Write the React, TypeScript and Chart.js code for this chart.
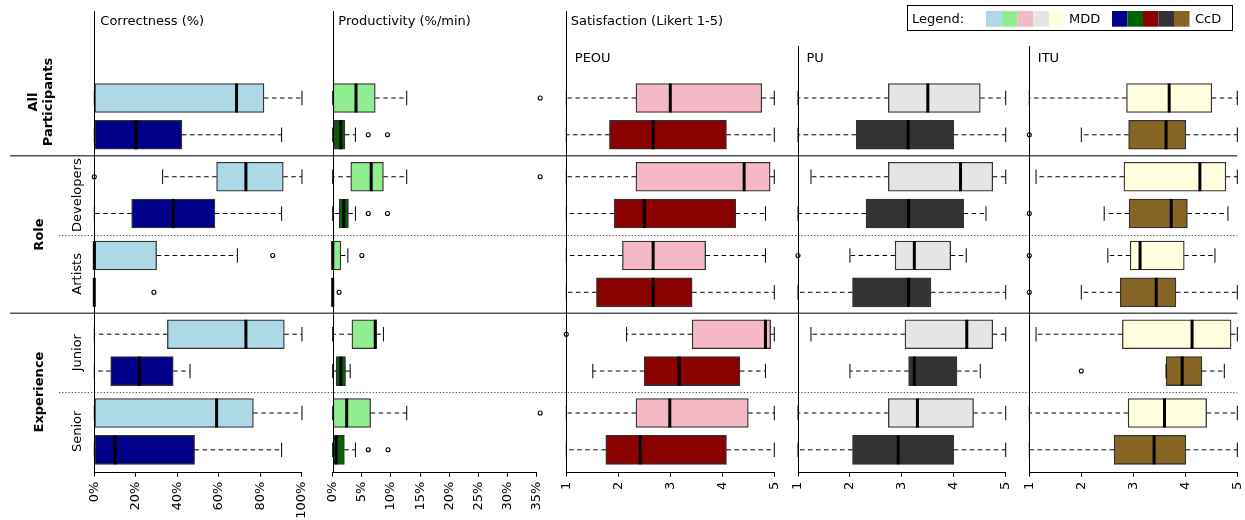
import { useEffect, useRef } from 'react';
import { Chart, registerables } from 'chart.js';

Chart.register(...registerables);

const FONT = 'DejaVu Sans';

// ---------- text ----------
const panelTitles = ['Correctness (%)', 'Productivity (%/min)'];
const satisfactionTitle = 'Satisfaction (Likert 1-5)';
const likertTitles = ['PEOU', 'PU', 'ITU'];
const groupLabels = [['All', 'Participants'], ['Role'], ['Experience']];
const subgroupLabels = ['', 'Developers', 'Artists', 'Junior', 'Senior'];
const methodNames = ['MDD', 'CcD'];

// ---------- tick labels ----------
const correctnessTicks = [0, 20, 40, 60, 80, 100];
const productivityTicks = [0, 5, 10, 15, 20, 25, 30, 35];
const likertTicks = [1, 2, 3, 4, 5];

// ---------- data: [lower whisker, Q1, median, Q3, upper whisker]
// rows: All Participants, Developers, Artists, Junior, Senior
const correctnessMDD = [
  [0, 0, 68.5, 81.7, 100],
  [32.9, 58.9, 73, 91, 100],
  [0, 0, 0, 30, 68.9],
  [0, 35.2, 73, 91.5, 100],
  [0, 0, 58.9, 76.6, 100],
];
const correctnessMDDOutliers = [[], [0], [85.9], [], []];
const correctnessCcD = [
  [0, 0, 20.1, 42.2, 90.2],
  [0, 18, 38, 58.1, 90.2],
  [0, 0, 0, 0, 0],
  [0, 7.9, 21.7, 38, 46.1],
  [0, 0, 10, 48.3, 90.2],
];
const correctnessCcDOutliers = [[], [], [28.7], [], []];

const productivityMDD = [
  [0, 0, 4.0, 7.3, 12.7],
  [0, 3.1, 6.6, 8.7, 12.7],
  [0, 0, 0, 1.4, 2.6],
  [0, 3.3, 7.3, 7.5, 8.7],
  [0, 0, 2.4, 6.5, 12.7],
];
const productivityMDDOutliers = [[35.6], [35.6], [5.0], [], [35.6]];
const productivityCcD = [
  [0, 0.2, 1.4, 2.1, 3.9],
  [0, 1.1, 1.9, 2.7, 3.9],
  [0, 0, 0, 0, 0],
  [0, 0.6, 1.4, 2.2, 3.0],
  [0, 0, 0.6, 2.0, 3.9],
];
const productivityCcDOutliers = [[6.1, 9.4], [6.1, 9.4], [1.1], [], [6.1, 9.5]];

const peouMDD = [
  [1, 2.34, 3.0, 4.76, 5],
  [1, 2.34, 4.42, 4.92, 5],
  [1, 2.08, 2.67, 3.68, 4.83],
  [2.16, 3.42, 4.83, 4.93, 5],
  [1, 2.34, 2.99, 4.5, 5],
];
const peouMDDOutliers = [[], [], [], [1], []];
const peouCcD = [
  [1, 1.83, 2.67, 4.08, 5],
  [1, 1.92, 2.5, 4.26, 4.83],
  [1, 1.58, 2.67, 3.42, 5],
  [1.51, 2.5, 3.17, 4.34, 4.83],
  [1, 1.76, 2.42, 4.08, 5],
];
const peouCcDOutliers = [[], [], [], [], []];

const puMDD = [
  [1, 2.74, 3.5, 4.51, 5],
  [1.25, 2.74, 4.13, 4.75, 5],
  [2, 2.87, 3.24, 3.94, 4.24],
  [1.25, 3.06, 4.25, 4.75, 5],
  [1, 2.74, 3.3, 4.38, 5],
];
const puMDDOutliers = [[], [], [1], [], []];
const puCcD = [
  [1, 2.12, 3.12, 4.0, 5],
  [1, 2.31, 3.13, 4.19, 4.62],
  [1, 2.05, 3.13, 3.56, 5],
  [2, 3.13, 3.24, 4.06, 4.51],
  [1, 2.05, 2.93, 4.0, 5],
];
const puCcDOutliers = [[], [], [], [], []];

const ituMDD = [
  [1, 2.87, 3.69, 4.51, 5],
  [1.13, 2.82, 4.28, 4.78, 5],
  [2.51, 2.94, 3.13, 3.98, 4.57],
  [1.13, 2.79, 4.13, 4.88, 5],
  [1, 2.9, 3.6, 4.41, 5],
];
const ituMDDOutliers = [[], [], [1], [], []];
const ituCcD = [
  [2, 2.91, 3.63, 4.01, 5],
  [2.44, 2.92, 3.73, 4.04, 4.82],
  [2, 2.75, 3.44, 3.82, 5],
  [3.63, 3.63, 3.94, 4.32, 4.75],
  [1, 2.63, 3.4, 4.01, 5],
];
const ituCcDOutliers = [[1], [1], [1], [2], []];

// ---------- assembly ----------
const statsByMethod = [
  [correctnessMDD, productivityMDD, peouMDD, puMDD, ituMDD],
  [correctnessCcD, productivityCcD, peouCcD, puCcD, ituCcD],
];
const outliersByMethod = [
  [correctnessMDDOutliers, productivityMDDOutliers, peouMDDOutliers, puMDDOutliers, ituMDDOutliers],
  [correctnessCcDOutliers, productivityCcDOutliers, peouCcDOutliers, puCcDOutliers, ituCcDOutliers],
];
const panelTicks = [correctnessTicks, productivityTicks, likertTicks, likertTicks, likertTicks];

// ---------- styles / layout ----------
const mddColors = ['#ADD8E6', '#90EE90', '#F4B9C4', '#E5E5E5', '#FFFFE0'];
const ccdColors = ['#00008B', '#006400', '#8B0000', '#333333', '#856424'];
const methodColors = [mddColors, ccdColors];
const panelRanges = [[0, 114.8], [0, 40.08], [1, 5.456], [1, 5.454], [1, 5.148]];
const panelWeights = [238.4, 233.6, 231.7, 231.3, 215.7];
const GROUP_STEP = 2.14;
const SEP_OFFSET = 0.57;
const Y_MIN = -1.391;
const Y_MAX = 11.155;
const BOX_H = 29;

const rowPos = (k: number, m: number) => 1 + k * GROUP_STEP + m;

function vText(ctx: CanvasRenderingContext2D, text: string, x: number, y: number) {
  ctx.save();
  ctx.translate(x, y);
  ctx.rotate(-Math.PI / 2);
  ctx.textAlign = 'center';
  ctx.textBaseline = 'alphabetic';
  ctx.fillText(text, 0, 0);
  ctx.restore();
}

const decorPlugin = {
  id: 'boxDecor',
  beforeDatasetsDraw(chart: any) {
    const ctx: CanvasRenderingContext2D = chart.ctx;
    const ys = chart.scales.y;
    const xEnd = chart.scales.x4.getPixelForValue(5);
    ctx.save();
    // solid separators between groups
    ctx.strokeStyle = '#555';
    ctx.lineWidth = 1.3;
    [0, 2].forEach((k) => {
      const y = ys.getPixelForValue(rowPos(k, 1) + SEP_OFFSET);
      ctx.beginPath();
      ctx.moveTo(10, y);
      ctx.lineTo(xEnd, y);
      ctx.stroke();
    });
    // dotted separators within groups
    ctx.strokeStyle = '#444';
    ctx.lineWidth = 1;
    ctx.setLineDash([1.2, 2]);
    [1, 3].forEach((k) => {
      const y = Math.round(ys.getPixelForValue(rowPos(k, 1) + SEP_OFFSET)) + 0.5;
      ctx.beginPath();
      ctx.moveTo(59, y);
      ctx.lineTo(xEnd, y);
      ctx.stroke();
    });
    ctx.restore();
  },
  afterDatasetsDraw(chart: any) {
    const ctx: CanvasRenderingContext2D = chart.ctx;
    const ys = chart.scales.y;
    const bottom = chart.chartArea.bottom;
    ctx.save();
    for (let p = 0; p < 5; p++) {
      const xs = chart.scales['x' + p];
      for (let m = 0; m < 2; m++) {
        statsByMethod[m][p].forEach((s: number[], k: number) => {
          const y = ys.getPixelForValue(rowPos(k, m));
          const [lo, q1, med, q3, hi] = s.map((v) => xs.getPixelForValue(v));
          ctx.strokeStyle = '#000';
          ctx.lineWidth = 1;
          // whiskers
          ctx.setLineDash([4.5, 3.5]);
          ctx.beginPath();
          if (q3 < hi) { ctx.moveTo(q3, y); ctx.lineTo(hi, y); }
          if (lo < q1) { ctx.moveTo(q1, y); ctx.lineTo(lo, y); }
          ctx.stroke();
          ctx.setLineDash([]);
          // caps
          ctx.beginPath();
          ctx.moveTo(hi, y - BOX_H / 4); ctx.lineTo(hi, y + BOX_H / 4);
          ctx.moveTo(lo, y - BOX_H / 4); ctx.lineTo(lo, y + BOX_H / 4);
          ctx.stroke();
          // median
          ctx.lineWidth = 3;
          ctx.beginPath();
          ctx.moveTo(med, y - BOX_H / 2); ctx.lineTo(med, y + BOX_H / 2);
          ctx.stroke();
          // outliers
          ctx.lineWidth = 1.1;
          outliersByMethod[m][p][k].forEach((v: number) => {
            ctx.beginPath();
            ctx.arc(xs.getPixelForValue(v), y, 2, 0, Math.PI * 2);
            ctx.stroke();
          });
        });
      }
      // panel vertical line
      const lx = Math.round(xs.left) + 0.5;
      ctx.strokeStyle = '#000';
      ctx.lineWidth = 1;
      ctx.beginPath();
      ctx.moveTo(lx, p < 3 ? 11 : 46);
      ctx.lineTo(lx, bottom + 0.5);
      ctx.stroke();
      // axis line from first to last tick
      const t = panelTicks[p];
      const ay = Math.round(bottom) + 0.5;
      ctx.beginPath();
      ctx.moveTo(xs.getPixelForValue(t[0]), ay);
      ctx.lineTo(xs.getPixelForValue(t[t.length - 1]), ay);
      ctx.stroke();
    }
    ctx.restore();
  },
  afterDraw(chart: any) {
    const ctx: CanvasRenderingContext2D = chart.ctx;
    const ys = chart.scales.y;
    ctx.save();
    ctx.fillStyle = '#000';
    ctx.font = `13px "${FONT}"`;
    ctx.textBaseline = 'alphabetic';
    ctx.textAlign = 'left';
    // panel titles
    ctx.fillText(panelTitles[0], chart.scales.x0.left + 6, 24.5);
    ctx.fillText(panelTitles[1], chart.scales.x1.left + 5.6, 24.5);
    ctx.fillText(satisfactionTitle, chart.scales.x2.left + 4.4, 24.5);
    likertTitles.forEach((t, i) => {
      ctx.fillText(t, chart.scales['x' + (i + 2)].left + 8.5, 62);
    });
    // legend
    ctx.strokeStyle = '#000';
    ctx.lineWidth = 1;
    ctx.strokeRect(907.5, 5.5, 325, 25);
    ctx.fillText('Legend:', 912, 23);
    mddColors.forEach((c, i) => {
      ctx.fillStyle = c;
      ctx.fillRect(986 + i * 15.8, 11, 15.8, 15.7);
    });
    ccdColors.forEach((c, i) => {
      ctx.fillStyle = c;
      ctx.fillRect(1112 + i * 15.5, 11, 15.5, 15.7);
    });
    ctx.fillStyle = '#000';
    ctx.fillText(methodNames[0], 1069, 23);
    ctx.fillText(methodNames[1], 1195, 23);
    // subgroup labels
    subgroupLabels.forEach((lab, k) => {
      if (!lab) return;
      const y = (ys.getPixelForValue(rowPos(k, 0)) + ys.getPixelForValue(rowPos(k, 1))) / 2;
      vText(ctx, lab, 81, y);
    });
    // group labels
    ctx.font = `bold 13px "${FONT}"`;
    vText(ctx, groupLabels[0][0], 37, 102);
    vText(ctx, groupLabels[0][1], 51.5, 102);
    const centerOf = (k1: number, k2: number) =>
      (ys.getPixelForValue(rowPos(k1, 0)) + ys.getPixelForValue(rowPos(k2, 1))) / 2;
    vText(ctx, groupLabels[1][0], 42.5, centerOf(1, 2));
    vText(ctx, groupLabels[2][0], 42.5, centerOf(3, 4));
    ctx.restore();
  },
};

function buildConfig(): any {
  const datasets: any[] = [];
  for (let p = 0; p < 5; p++) {
    for (let m = 0; m < 2; m++) {
      datasets.push({
        label: methodNames[m],
        xAxisID: 'x' + p,
        yAxisID: 'y',
        data: statsByMethod[m][p].map((s, k) => ({ y: rowPos(k, m), x: [s[1], s[3]] })),
        backgroundColor: methodColors[m][p],
        borderColor: '#333',
        borderWidth: 1.3,
        borderSkipped: false,
        barThickness: BOX_H,
        grouped: false,
      });
    }
  }
  const scales: any = {
    y: {
      type: 'linear',
      reverse: true,
      min: Y_MIN,
      max: Y_MAX,
      offset: false,
      bounds: 'data',
      grace: 0,
      display: false,
    },
  };
  for (let p = 0; p < 5; p++) {
    const ticks = panelTicks[p];
    scales['x' + p] = {
      type: 'linear',
      position: 'bottom',
      stack: 'panels',
      stackWeight: panelWeights[p],
      min: panelRanges[p][0],
      max: panelRanges[p][1],
      offset: false,
      afterBuildTicks: (s: any) => {
        s.ticks = ticks.map((v) => ({ value: v }));
      },
      afterFit: (s: any) => {
        s.height = 48.3;
        s.paddingLeft = 0;
        s.paddingRight = 0;
      },
      ticks: {
        autoSkip: false,
        minRotation: 90,
        maxRotation: 90,
        padding: 5,
        color: '#000',
        font: { family: FONT, size: 13 },
        callback: (v: number) => (p < 2 ? `${v}%` : `${v}`),
      },
      grid: { drawOnChartArea: false, drawTicks: true, tickLength: 5, color: '#000', lineWidth: 1 },
      border: { display: false },
    };
  }
  return {
    type: 'bar',
    data: { datasets },
    options: {
      indexAxis: 'y',
      animation: false,
      responsive: true,
      maintainAspectRatio: false,
      events: [],
      layout: { padding: { left: 94.3, right: 0, top: 10, bottom: 0 } },
      plugins: { legend: { display: false }, tooltip: { enabled: false }, title: { display: false } },
      scales,
    },
    plugins: [decorPlugin],
  };
}

export default function App() {
  const ref = useRef<HTMLCanvasElement>(null);
  useEffect(() => {
    Chart.defaults.font.family = FONT;
    const chart = new Chart(ref.current as HTMLCanvasElement, buildConfig());
    return () => chart.destroy();
  }, []);
  return (
    <div style={{ position: 'fixed', left: 0, top: 0, width: 1245, height: 520, background: '#fff' }}>
      <canvas ref={ref} />
    </div>
  );
}
